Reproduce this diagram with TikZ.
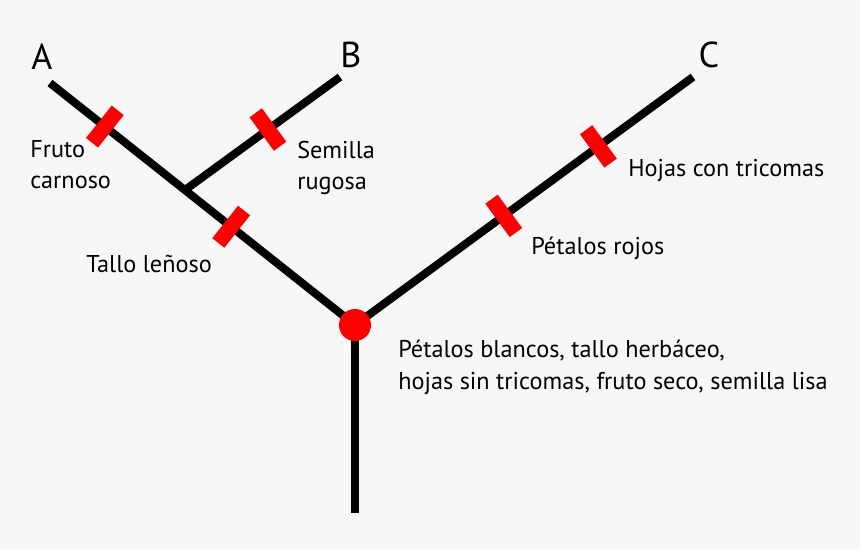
\documentclass[tikz,border=0pt]{standalone}
\usepackage{fontspec}
\setmainfont{PT Sans}
\usetikzlibrary{positioning}
\definecolor{paper}{HTML}{F7F7F7}

\begin{document}
\begin{tikzpicture}[
  x=0.75pt, y=-0.75pt,
  branch/.style={line width=6pt},
  trait/.style={fill=red, inner sep=0pt, minimum width=11.5pt, minimum height=31pt, sloped},
  dot/.style={circle, fill=red, inner sep=0pt, minimum size=24pt},
  taxon/.style={font=\fontsize{27}{30}\selectfont, inner sep=0pt},
  lbl/.style={font=\fontsize{18.2}{23.5}\selectfont, align=left, anchor=base west, inner sep=0pt},
]
% Page
\fill[paper] (0,0) rectangle (860,549);
\useasboundingbox (0,0) rectangle (860,549);

% Tips, split points and root
\coordinate (a) at (50,83);
\coordinate (b) at (340,77);
\coordinate (c) at (693,77);
\coordinate (ab) at (185,190);
\coordinate (root) at (355,325);
\coordinate (stem) at (355,513);

% Branches with their traits
\draw[branch] (a) -- (root)
  node[trait, pos=0.18] (fruto) {}
  node[trait, pos=0.594] (tallo) {};
\draw[branch] (ab) -- (b)
  node[trait, pos=0.535] (semilla) {};
\draw[branch] (root) -- (c)
  node[trait, pos=0.44] (rojos) {}
  node[trait, pos=0.72] (hojas) {};
\draw[branch] (root) -- (stem);
\node[dot] (anc) at (root) {};

% Taxa
\node[taxon] (ta) at (42,57) {A};
\node[taxon] (tb) at (351,55) {B};
\node[taxon] (tc) at (709,55) {C};

% Trait labels (anchored on the last line)
\node[lbl] (lfruto) at (30,189) {Fruto\\carnoso};
\node[lbl] (lsemilla) at (297,190) {Semilla\\rugosa};
\node[lbl] (ltallo) at (86,272) {Tallo leñoso};
\node[lbl] (lhojas) at (628,176) {Hojas con tricomas};
\node[lbl] (lrojos) at (531,254) {Pétalos rojos};
\node[lbl] (lanc) at (398,389) {Pétalos blancos, tallo herbáceo,\\hojas sin tricomas, fruto seco, semilla lisa};
\end{tikzpicture}
\end{document}
